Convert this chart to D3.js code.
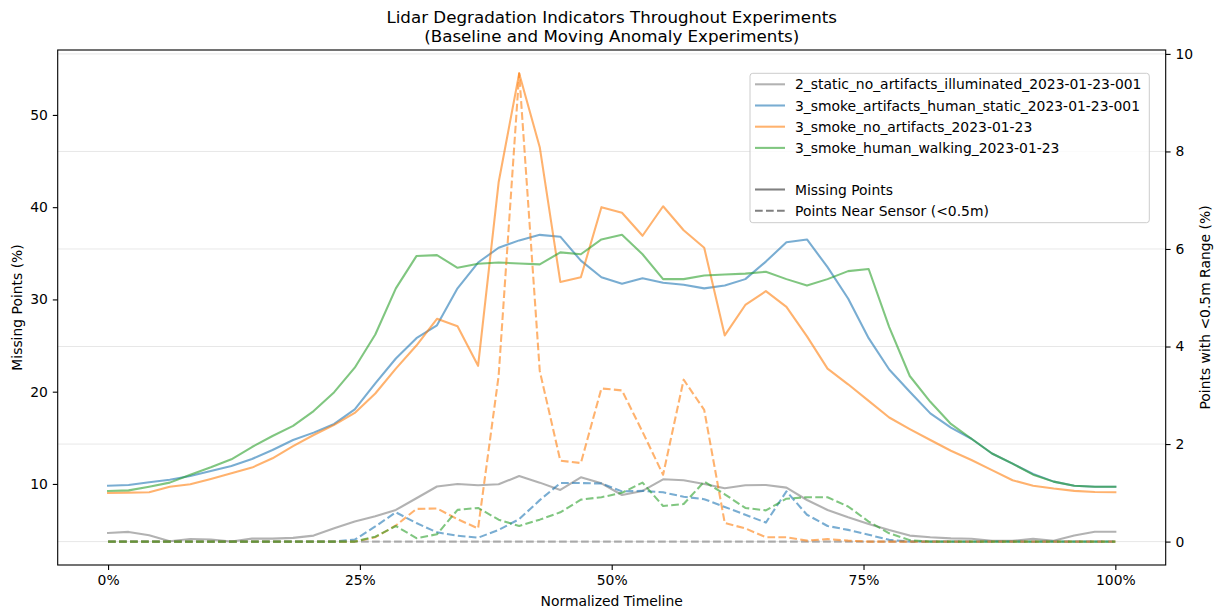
<!DOCTYPE html>
<html>
<head>
<meta charset="utf-8">
<script src="https://cdn.jsdelivr.net/npm/d3@7"></script>
<style>
  html, body { margin: 0; padding: 0; background: #ffffff; }
  svg { display: block; font-family: "DejaVu Sans", sans-serif; }
</style>
</head>
<body>
<svg id="chart" width="1225" height="613"></svg>
<script>
// Normalized timeline: 50 samples from 0 to 1
const timeline = d3.range(50).map(i => i / 49);

const seriesNames = [
  "2_static_no_artifacts_illuminated_2023-01-23-001",
  "3_smoke_artifacts_human_static_2023-01-23-001",
  "3_smoke_no_artifacts_2023-01-23",
  "3_smoke_human_walking_2023-01-23"
];

// Missing points (%), left axis
const missingStatic = [4.69, 4.8, 4.44, 3.79, 4.04, 3.97, 3.75, 4.07, 4.07, 4.15,
  4.4, 5.2, 5.92, 6.5, 7.18, 8.45, 9.72, 10.0, 9.86, 9.96,
  10.86, 10.14, 9.35, 10.72, 10.07, 8.8, 9.24, 10.5, 10.4, 10.0,
  9.53, 9.86, 9.89, 9.6, 8.26, 7.18, 6.39, 5.66, 5.0, 4.4,
  4.22, 4.1, 4.05, 3.83, 3.84, 4.05, 3.83, 4.4, 4.82, 4.82];
const missingSmokeStatic = [9.81, 9.89, 10.18, 10.46, 10.86, 11.4, 11.95, 12.7, 13.68, 14.76,
  15.56, 16.5, 18.09, 20.9, 23.6, 25.8, 27.2, 31.2, 34.0, 35.6,
  36.4, 37.0, 36.8, 34.2, 32.4, 31.7, 32.3, 31.8, 31.6, 31.2,
  31.5, 32.2, 34.1, 36.2, 36.5, 33.5, 30.1, 25.8, 22.4, 20.0,
  17.65, 16.1, 14.9, 13.3, 12.2, 11.08, 10.25, 9.8, 9.7, 9.7];
const missingSmokeNoArtifacts = [9.02, 9.06, 9.1, 9.7, 9.96, 10.54, 11.15, 11.77, 12.78, 14.1,
  15.3, 16.4, 17.7, 19.8, 22.5, 25.0, 27.9, 27.1, 22.8, 42.7,
  54.5, 46.5, 31.9, 32.4, 40.0, 39.4, 36.9, 40.1, 37.5, 35.6,
  26.1, 29.4, 30.9, 29.2, 26.0, 22.5, 20.8, 19.0, 17.2, 15.95,
  14.76, 13.6, 12.6, 11.5, 10.4, 9.8, 9.5, 9.25, 9.13, 9.1];
const missingSmokeWalking = [9.24, 9.3, 9.7, 10.14, 11.0, 11.8, 12.67, 14.0, 15.2, 16.3,
  17.9, 19.95, 22.6, 26.2, 31.2, 34.7, 34.8, 33.43, 33.86, 34.0,
  33.9, 33.8, 35.1, 34.9, 36.5, 37.0, 34.9, 32.2, 32.2, 32.6,
  32.7, 32.8, 33.0, 32.2, 31.5, 32.2, 33.07, 33.3, 27.0, 21.7,
  18.9, 16.5, 14.9, 13.3, 12.2, 11.0, 10.25, 9.8, 9.7, 9.7];

// Points with <0.5m range (%), right axis
const nearStatic = new Array(50).fill(0);
const nearSmokeStatic = [0, 0, 0, 0, 0, 0, 0, 0, 0, 0,
  0, 0, 0.04, 0.31, 0.6, 0.38, 0.19, 0.12, 0.08, 0.24,
  0.46, 0.85, 1.2, 1.2, 1.19, 1.03, 1.04, 1.01, 0.92, 0.87,
  0.71, 0.55, 0.39, 1.03, 0.55, 0.32, 0.24, 0.14, 0.035, 0,
  0, 0, 0, 0, 0, 0, 0, 0, 0, 0];
const nearSmokeNoArtifacts = [0, 0, 0, 0, 0, 0, 0, 0, 0, 0,
  0, 0, 0, 0.09, 0.33, 0.67, 0.68, 0.46, 0.27, 3.4,
  9.6, 3.5, 1.66, 1.61, 3.14, 3.1, 2.25, 1.37, 3.32, 2.7,
  0.38, 0.27, 0.09, 0.09, 0.02, 0.05, 0.02, 0, 0, 0,
  0, 0, 0, 0, 0, 0, 0, 0, 0, 0];
const nearSmokeWalking = [0, 0, 0, 0, 0, 0, 0, 0, 0, 0,
  0, 0, 0, 0.1, 0.32, 0.07, 0.15, 0.65, 0.69, 0.45,
  0.32, 0.45, 0.6, 0.86, 0.91, 1.0, 1.21, 0.73, 0.77, 1.23,
  0.97, 0.69, 0.64, 0.88, 0.91, 0.91, 0.72, 0.41, 0.17, 0.03,
  0, 0, 0, 0, 0, 0, 0, 0, 0, 0];

const missingSeries = [missingStatic, missingSmokeStatic, missingSmokeNoArtifacts, missingSmokeWalking];
const nearSeries = [nearStatic, nearSmokeStatic, nearSmokeNoArtifacts, nearSmokeWalking];
const seriesColors = ["#7f7f7f", "#1f77b4", "#ff7f0e", "#2ca02c"];

const xTicks = [0, 0.25, 0.5, 0.75, 1];
const leftTicks = [10, 20, 30, 40, 50];
const rightTicks = [0, 2, 4, 6, 8, 10];

const titleLines = ["Lidar Degradation Indicators Throughout Experiments",
  "(Baseline and Moving Anomaly Experiments)"];

// Layout
const plot = { left: 57.7, right: 1165.7, top: 50, bottom: 565 };
const fs = 13.9;
const lineW = 2.08;
const lineAlpha = 0.6;
const tickLen = 4.9, tickPad = 4.9;

const svg = d3.select("#chart");
svg.append("rect").attr("width", 1225).attr("height", 613).attr("fill", "#fff");

// Scales with matplotlib-like 5% margins
function padded(lo, hi) { const m = (hi - lo) * 0.05; return [lo - m, hi + m]; }
const x = d3.scaleLinear().domain(padded(0, 1)).range([plot.left, plot.right]);
const allMissing = missingSeries.flat();
const allNear = nearSeries.flat();
const yL = d3.scaleLinear().domain(padded(d3.min(allMissing), d3.max(allMissing))).range([plot.bottom, plot.top]);
const yR = d3.scaleLinear().domain(padded(d3.min(allNear), d3.max(allNear))).range([plot.bottom, plot.top]);

// Horizontal grid at the right-axis ticks
svg.append("g").selectAll("line").data(rightTicks).join("line")
  .attr("x1", plot.left).attr("x2", plot.right)
  .attr("y1", d => yR(d)).attr("y2", d => yR(d))
  .attr("stroke", "#b0b0b0").attr("stroke-opacity", 0.3).attr("stroke-width", 1);

const clip = svg.append("clipPath").attr("id", "plotclip").append("rect")
  .attr("x", plot.left).attr("y", plot.top)
  .attr("width", plot.right - plot.left).attr("height", plot.bottom - plot.top);

const lines = svg.append("g").attr("clip-path", "url(#plotclip)");

const lineL = d3.line().x((d, i) => x(timeline[i])).y(d => yL(d));
const lineR = d3.line().x((d, i) => x(timeline[i])).y(d => yR(d));

missingSeries.forEach((s, k) => {
  lines.append("path").datum(s).attr("d", lineL)
    .attr("fill", "none").attr("stroke", seriesColors[k])
    .attr("stroke-opacity", lineAlpha).attr("stroke-width", lineW)
    .attr("stroke-linejoin", "round").attr("stroke-linecap", "square");
});
nearSeries.forEach((s, k) => {
  lines.append("path").datum(s).attr("d", lineR)
    .attr("fill", "none").attr("stroke", seriesColors[k])
    .attr("stroke-opacity", lineAlpha).attr("stroke-width", lineW)
    .attr("stroke-dasharray", "7.7,3.3")
    .attr("stroke-linejoin", "round");
});

// Axes
function styleAxis(g) {
  g.select(".domain").remove();
  g.selectAll(".tick line").attr("stroke", "#000").attr("stroke-width", 1.1);
  g.selectAll(".tick text").attr("fill", "#000").attr("font-size", fs)
    .attr("font-family", "DejaVu Sans, sans-serif");
}
svg.append("g").attr("transform", `translate(0,${plot.bottom})`)
  .call(d3.axisBottom(x).tickValues(xTicks).tickFormat(d3.format(".0%"))
    .tickSize(tickLen).tickPadding(tickPad))
  .call(styleAxis);
svg.append("g").attr("transform", `translate(${plot.left},0)`)
  .call(d3.axisLeft(yL).tickValues(leftTicks).tickFormat(d3.format("d"))
    .tickSize(tickLen).tickPadding(tickPad))
  .call(styleAxis);
svg.append("g").attr("transform", `translate(${plot.right},0)`)
  .call(d3.axisRight(yR).tickValues(rightTicks).tickFormat(d3.format("d"))
    .tickSize(tickLen).tickPadding(tickPad))
  .call(styleAxis);

// Frame
svg.append("rect").attr("x", plot.left).attr("y", plot.top)
  .attr("width", plot.right - plot.left).attr("height", plot.bottom - plot.top)
  .attr("fill", "none").attr("stroke", "#000").attr("stroke-width", 1.1);

// Titles and axis labels
const cx = (plot.left + plot.right) / 2;
svg.append("text").attr("x", cx).attr("y", 23).attr("text-anchor", "middle")
  .attr("font-size", 16.7).text(titleLines[0]);
svg.append("text").attr("x", cx).attr("y", 42).attr("text-anchor", "middle")
  .attr("font-size", 16.7).text(titleLines[1]);
svg.append("text").attr("x", cx).attr("y", 606).attr("text-anchor", "middle")
  .attr("font-size", fs).text("Normalized Timeline");
svg.append("text").attr("transform", `translate(22,${(plot.top + plot.bottom) / 2}) rotate(-90)`)
  .attr("text-anchor", "middle").attr("font-size", fs).text("Missing Points (%)");
svg.append("text").attr("transform", `translate(1210,${(plot.top + plot.bottom) / 2}) rotate(-90)`)
  .attr("text-anchor", "middle").attr("font-size", fs).text("Points with <0.5m Range (%)");

// Legend
const lg = svg.append("g");
lg.append("rect").attr("x", 750).attr("y", 73.3).attr("width", 399.3).attr("height", 149.4)
  .attr("rx", 2.8).attr("fill", "#fff").attr("fill-opacity", 0.8)
  .attr("stroke", "#cccccc").attr("stroke-width", 1);
const rowY = [84.3, 105.5, 126.7, 147.9, 168.9, 189.5, 210.7];
const legendItems = [
  ...seriesNames.map((n, k) => ({ label: n, color: seriesColors[k], alpha: lineAlpha, dash: null })),
  null,
  { label: "Missing Points", color: "#808080", alpha: 1, dash: null },
  { label: "Points Near Sensor (<0.5m)", color: "#808080", alpha: 1, dash: "7.7,3.3" }
];
legendItems.forEach((it, r) => {
  if (!it) return;
  const y = rowY[r];
  lg.append("line").attr("x1", 755).attr("x2", 785).attr("y1", y).attr("y2", y)
    .attr("stroke", it.color).attr("stroke-opacity", it.alpha).attr("stroke-width", lineW)
    .attr("stroke-dasharray", it.dash);
  lg.append("text").attr("x", 795).attr("y", y).attr("dy", "0.36em")
    .attr("font-size", fs).text(it.label);
});
</script>
</body>
</html>
